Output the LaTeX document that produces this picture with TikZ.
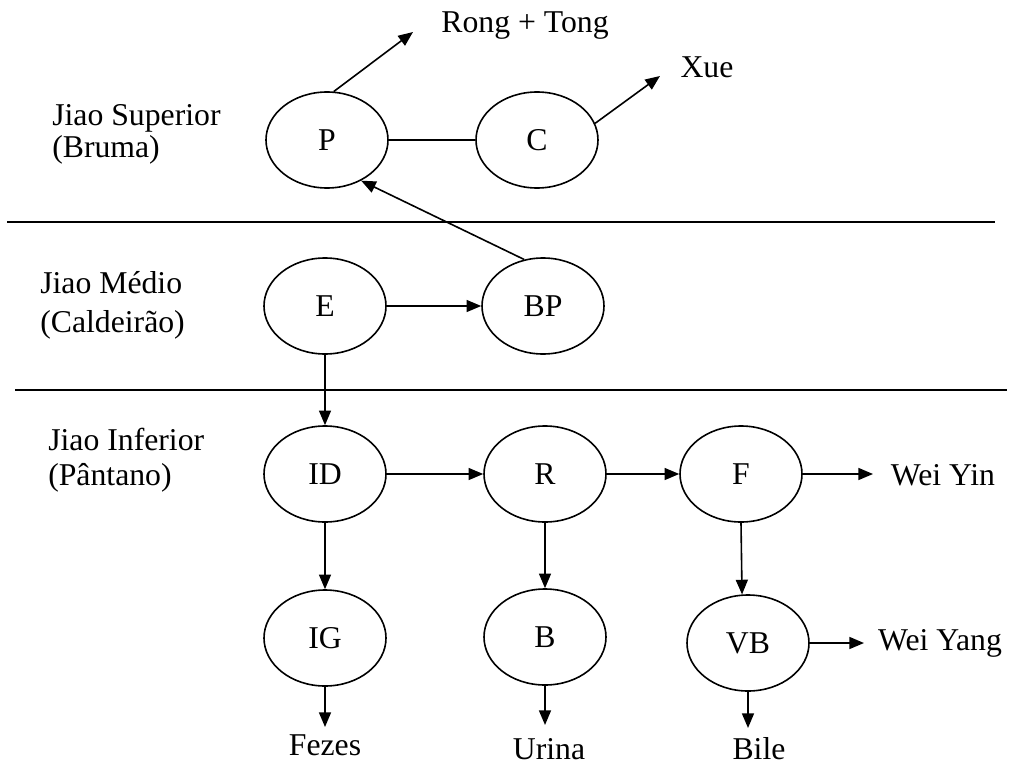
\documentclass[tikz,border=0pt]{standalone}
\usepackage{fontspec}
\setmainfont{Liberation Serif}
\usetikzlibrary{shapes.geometric,arrows.meta}
\begin{document}
\begin{tikzpicture}[x=0.75pt,y=-0.75pt,
  organ/.style={ellipse,draw,line width=1.2pt,minimum width=91.5pt,minimum height=72pt,inner sep=0pt},
  lbl/.style={inner sep=0pt,anchor=base},
  zone/.style={inner sep=0pt,anchor=base west},
  arr/.style={line width=1.2pt,-{Triangle[length=11pt,width=9pt]}},
  ln/.style={line width=1.2pt},
  font=\fontsize{23.8}{28}\selectfont]
\useasboundingbox (0,0) rectangle (1010,767);
% zone labels
\node[zone] (js) at (52,125) {Jiao Superior};
\node[zone] (jsb) at (52,157) {(Bruma)};
\node[zone] (jm) at (40,293) {Jiao Médio};
\node[zone] (jmb) at (40,332) {(Caldeirão)};
\node[zone] (ji) at (48,450) {Jiao Inferior};
\node[zone] (jib) at (48,485) {(Pântano)};
% separators
\coordinate (l1a) at (7,222); \coordinate (l1b) at (995,222);
\coordinate (l2a) at (15,390); \coordinate (l2b) at (1007,390);
\draw[ln] (l1a) -- (l1b);
\draw[ln] (l2a) -- (l2b);
% organs
\node[organ] (P) at (327,140) {P};
\node[organ] (C) at (537,140) {C};
\node[organ] (E) at (325,306) {E};
\node[organ] (BP) at (543,306) {BP};
\node[organ] (ID) at (325,474) {ID};
\node[organ] (R) at (545,474) {R};
\node[organ] (F) at (741,474) {F};
\node[organ] (IG) at (325,638) {IG};
\node[organ] (B) at (545,637) {B};
\node[organ] (VB) at (748,643) {VB};
% text outputs
\node[lbl] (rt) at (525,33) {Rong + Tong};
\node[lbl] (xue) at (707,78) {Xue};
\node[lbl] (wyin) at (943,485) {Wei Yin};
\node[lbl] (wyang) at (940,650) {Wei Yang};
\node[lbl] (fez) at (325,755) {Fezes};
\node[lbl] (uri) at (549,759) {Urina};
\node[lbl] (bile) at (759,759) {Bile};
% free arrow ends
\coordinate (rtend) at (413,32);
\coordinate (xueend) at (660,76);
\coordinate (wyinend) at (873,474);
\coordinate (wyangend) at (864,643);
\coordinate (fezend) at (325,727);
\coordinate (uriend) at (545,725);
\coordinate (bileend) at (748,728);
% connectors
\draw[arr] (P.82) -- (rtend);
\draw[arr] (C.16) -- (xueend);
\draw[ln] (P.east) -- (C.west);
\draw[arr] (BP.112) -- (P.-50);
\draw[arr] (E.east) -- (BP.west);
\draw[arr] (E.south) -- (ID.north);
\draw[arr] (ID.east) -- (R.west);
\draw[arr] (R.east) -- (F.west);
\draw[arr] (F.east) -- (wyinend);
\draw[arr] (ID.south) -- (IG.north);
\draw[arr] (R.south) -- (B.north);
\draw[arr] (F.south) -- (VB.97);
\draw[arr] (VB.east) -- (wyangend);
\draw[arr] (IG.south) -- (fezend);
\draw[arr] (B.south) -- (uriend);
\draw[arr] (VB.south) -- (bileend);
\end{tikzpicture}
\end{document}
